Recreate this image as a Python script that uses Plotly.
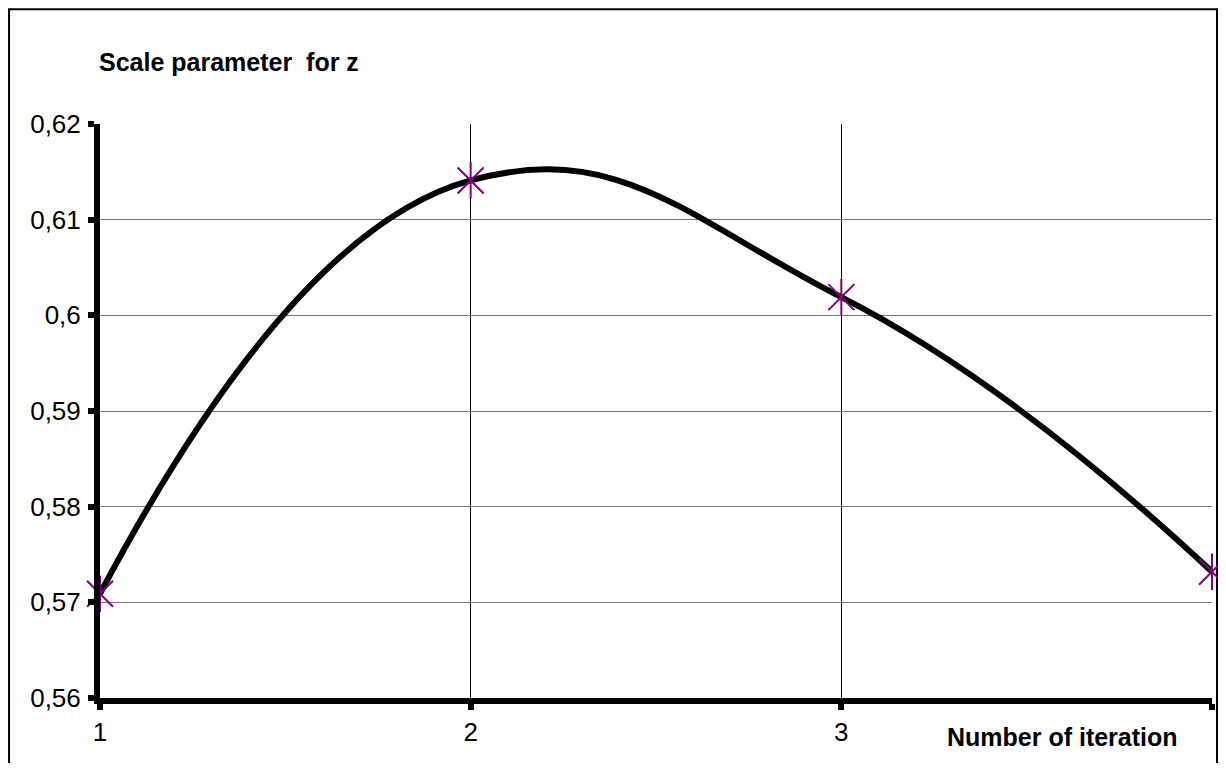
import plotly.graph_objects as go

iterations = [1, 2, 3, 4]
scale_z = [0.5709, 0.6141, 0.6019, 0.5732]
x_tick_labels = ["1", "2", "3", ""]
y_ticks = [0.56, 0.57, 0.58, 0.59, 0.60, 0.61, 0.62]

FONT = "Liberation Sans, Arial, sans-serif"
PURPLE = "#800080"

fig = go.Figure()

fig.add_trace(go.Scatter(
    x=iterations, y=scale_z, mode="lines",
    line=dict(color="black", width=6, shape="spline", smoothing=1.3),
    cliponaxis=False, showlegend=False,
))
# asterisk marker = X plus a vertical stroke
for sym in ["x-thin-open", "line-ns-open"]:
    fig.add_trace(go.Scatter(
        x=iterations, y=scale_z, mode="markers",
        marker=dict(symbol=sym, size=26, color=PURPLE,
                    line=dict(color=PURPLE, width=2)),
        cliponaxis=False, showlegend=False,
    ))

fig.update_xaxes(
    range=[1, 4], tickvals=iterations, ticktext=x_tick_labels,
    showline=True, linecolor="black", linewidth=6,
    ticks="outside", ticklen=6, tickwidth=6, tickcolor="black",
    showgrid=True, gridcolor="black", gridwidth=1, zeroline=False,
    tickfont=dict(family=FONT, size=26, color="black"),
)
fig.update_yaxes(
    range=[0.56, 0.62], tickvals=y_ticks, tickformat=".2~f",
    showline=True, linecolor="black", linewidth=6,
    ticks="outside", ticklen=6, tickwidth=6, tickcolor="black",
    showgrid=True, gridcolor="#777777", gridwidth=1, zeroline=False,
    tickfont=dict(family=FONT, size=26, color="black"),
    ticklabelstandoff=2,
)

# outer chart frame
fig.add_shape(type="rect", xref="paper", yref="paper",
              x0=-0.0818, x1=1.0045, y0=-0.14, y1=1.2,
              line=dict(color="black", width=2), layer="below")

fig.add_annotation(text="<b>Scale parameter\u00a0 for z</b>", xref="paper", yref="paper",
                   x=-0.003, y=1.108, xanchor="left", yanchor="middle",
                   showarrow=False, font=dict(family=FONT, size=25, color="black"),
                   bgcolor="white")
fig.add_annotation(text="<b>Number of iteration</b>", xref="paper", yref="paper",
                   x=0.866, y=-0.068, xanchor="center", yanchor="middle",
                   showarrow=False, font=dict(family=FONT, size=25, color="black"),
                   bgcolor="white")

fig.update_layout(
    width=1210, height=755,
    margin=dict(l=92, r=6, t=116, b=65),
    paper_bgcolor="white", plot_bgcolor="white",
    separators=", ",
)

fig.write_html("out.html")
